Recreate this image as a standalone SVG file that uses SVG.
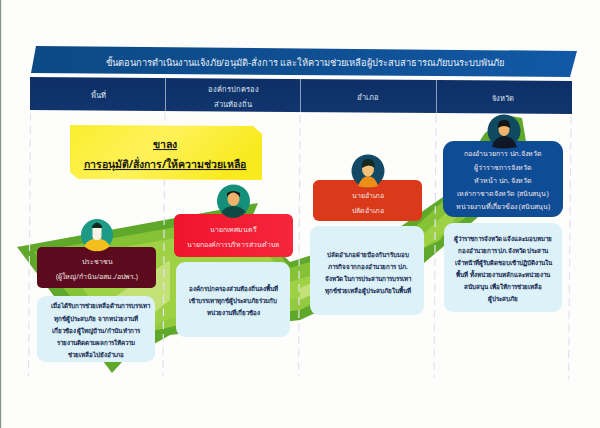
<svg xmlns="http://www.w3.org/2000/svg" width="600" height="428" viewBox="0 0 600 428">
<defs>
<linearGradient id="ban" x1="0" x2="1" y1="0" y2="0"><stop offset="0" stop-color="#0c4a86"/><stop offset="0.5" stop-color="#0f4f92"/><stop offset="1" stop-color="#1159a6"/></linearGradient>
<linearGradient id="hdr" x1="0" x2="0" y1="0" y2="1"><stop offset="0" stop-color="#0d2f66"/><stop offset="1" stop-color="#12356f"/></linearGradient>
<linearGradient id="yel" x1="0" x2="1" y1="0" y2="0.3"><stop offset="0" stop-color="#f9ee2c"/><stop offset="0.5" stop-color="#fff25a"/><stop offset="1" stop-color="#f8ea1f"/></linearGradient>
<linearGradient id="red" x1="0" x2="1" y1="0" y2="0"><stop offset="0" stop-color="#f0142c"/><stop offset="1" stop-color="#f7263c"/></linearGradient>
</defs>
<style>
text{font-family:"Noto Sans","Liberation Sans",sans-serif;text-anchor:middle}
.h{fill:#dfe6ef;font-size:7.5px}
.w{fill:#f2e6e6;font-size:7px}
.d{fill:#12284f;font-size:6.2px;font-weight:700}
.y{fill:#1a1a10;font-size:10.500px;font-weight:700;text-decoration:underline}
.dash{stroke:#e2e2ee;stroke-width:1.2;stroke-dasharray:8 5;fill:none}
.lb{fill:#dcf1f8}
</style>
<rect width="600" height="428" fill="#fdfdfb"/>
<rect x="0" y="0" width="1.2" height="428" fill="#7f9a8a"/>
<g id="banner">
<polygon points="36,46 577,51 570,77 31,73" fill="url(#ban)"/>
<text x="305" y="66" fill="#e8eef6" font-size="9.300">ขั้นตอนการดำเนินงานแจ้งภัย/อนุมัติ-สั่งการ และให้ความช่วยเหลือผู้ประสบสาธารณภัยบนระบบพันภัย</text>
</g>
<g id="header">
<polygon points="30,77 572,81 572,114 30,110" fill="url(#hdr)"/>
<path d="M165.500 78V111M300.500 79V112M436.500 80V114" stroke="#c5d0e0" stroke-width="0.7"/>
<text class="h" x="98" y="98">พื้นที่</text>
<text class="h" x="233" y="92">องค์กรปกครอง</text>
<text class="h" x="233" y="107">ส่วนท้องถิ่น</text>
<text class="h" x="368" y="100">อำเภอ</text>
<text class="h" x="503" y="101">จังหวัด</text>
</g>
<g id="connectors">
<polygon points="17,247 258,203 250,222 290,262 400,227 443,197 485,133 511,116 522,118 530,165 477,218 424,263 300,320 170,335 122,362 112,373" fill="#5fa82a"/>
<polygon points="34,252 250,214 290,268 410,232 455,190 495,135 515,122 520,160 465,218 420,250 300,298 170,318 110,345" fill="#86c236"/>
<polygon points="60,258 245,226 290,282 412,245 470,190 505,150 440,240 300,310 180,325 120,338" fill="#a6d548" opacity="0.75"/>
<polygon points="110,300 170,260 170,300 120,340" fill="#dceb9a" opacity="0.6"/>
<polygon points="300,288 420,235 425,245 300,300" fill="#dceb9a" opacity="0.6"/>
<path class="dash" d="M30.500 113L28.500 376"/>
<path class="dash" d="M165 113L163 376"/>
<path class="dash" d="M300 115L298.500 376"/>
<path class="dash" d="M436 115L434 378"/>
<path class="dash" d="M571 116L568.500 379"/>
</g>
<g id="decision">
<polygon points="70,125 253,126 262,134 262,180 78,179 70,172" fill="url(#yel)"/>
<text class="y" x="165" y="148">ขาลง</text>
<text class="y" x="165" y="168">การอนุมัติ/สั่งการ/ให้ความช่วยเหลือ</text>
</g>
<g id="node-area">
<rect x="37" y="247" width="119" height="41" rx="5" fill="#5c0a1e"/>
<circle cx="97" cy="235" r="16" fill="#1d9a85"/>
<path d="M84 246Q88 239 97 238Q106 239 110 246Q104 252 97 251Q90 252 84 246Z" fill="#f2bf1c"/>
<rect x="92.500" y="224" width="9" height="16" rx="4" fill="#fbf3e8"/>
<path d="M92 226Q97 219 102 226L102 228L92 228Z" fill="#12281f"/>
<text class="w" x="97" y="264">ประชาชน</text>
<text class="w" x="97" y="279">(ผู้ใหญ่/กำนัน/อสม./อปพร.)</text>
<rect class="lb" x="37" y="296" width="118" height="66" rx="9"/>
<text class="d" x="100" y="308">เมื่อได้รับการช่วยเหลือด้านการบรรเทา</text>
<text class="d" x="96" y="321">ทุกข์ผู้ประสบภัย จากหน่วยงานที่</text>
<text class="d" x="96" y="333">เกี่ยวข้อง ผู้ใหญ่บ้าน/กำนัน ทำการ</text>
<text class="d" x="96" y="345">รายงานติดตามผลการให้ความ</text>
<text class="d" x="96" y="357">ช่วยเหลือไปยังอำเภอ</text>
</g>
<g id="node-local">
<rect x="174" y="214" width="119" height="43" rx="6" fill="url(#red)"/>
<circle cx="233.500" cy="201" r="16.500" fill="#14907a"/>
<path d="M221 212Q226 206 233 206Q241 206 246 212Q240 218 233 218Q226 218 221 212Z" fill="#0f4a42"/>
<ellipse cx="233.500" cy="199" rx="6" ry="7" fill="#f0b268"/>
<path d="M227 197Q233 188 240 197L240 193Q233 189 227 193Z" fill="#1a1a1a"/>
<text class="w" x="233" y="232">นายกเทศมนตรี</text>
<text class="w" x="233" y="247">นายกองค์การบริหารส่วนตำบล</text>
<rect class="lb" x="176" y="262" width="114" height="75" rx="9"/>
<text class="d" x="233" y="291">องค์กรปกครองส่วนท้องถิ่นลงพื้นที่</text>
<text class="d" x="233" y="303">เข้าบรรเทาทุกข์ผู้ประสบภัยร่วมกับ</text>
<text class="d" x="233" y="315">หน่วยงานที่เกี่ยวข้อง</text>
</g>
<g id="node-district">
<rect x="313" y="180" width="109" height="41" rx="6" fill="#da3a1a"/>
<circle cx="368" cy="171" r="16.500" fill="#124a66"/>
<path d="M358 186Q362 176 368 176Q375 176 378 186Q368 189 358 186Z" fill="#ef8e16"/>
<ellipse cx="368" cy="169" rx="6" ry="7.500" fill="#f3c079"/>
<path d="M362 168Q361 159 368 159Q375 159 375 168Q369 163 362 168Z" fill="#14281f"/>
<text class="w" x="368" y="198">นายอำเภอ</text>
<text class="w" x="368" y="213">ปลัดอำเภอ</text>
<rect class="lb" x="310" y="226" width="114" height="89" rx="9"/>
<text class="d" x="368" y="257">ปลัดอำเภอฝ่ายป้องกันฯ รับมอบ</text>
<text class="d" x="368" y="269">ภารกิจจากกองอำนวยการ ปภ.</text>
<text class="d" x="368" y="281">จังหวัด ในการประสานการบรรเทา</text>
<text class="d" x="368" y="293">ทุกข์ช่วยเหลือผู้ประสบภัยในพื้นที่</text>
</g>
<g id="node-province">
<rect x="443" y="141" width="120" height="76" rx="11" fill="#0f4c96"/>
<circle cx="504" cy="131" r="16.500" fill="#0f4a60"/>
<path d="M492 147Q494 137 504 136Q514 137 517 147Q504 150 492 147Z" fill="#101828"/>
<ellipse cx="504" cy="129" rx="5.500" ry="7" fill="#f2b268"/>
<path d="M498 128Q497 120 504 120Q511 120 510 128Q504 124 498 128Z" fill="#141414"/>
<text class="w" x="503" y="156">กองอำนวยการ ปภ.จังหวัด</text>
<text class="w" x="503" y="170">ผู้ว่าราชการจังหวัด</text>
<text class="w" x="503" y="183">หัวหน้า ปภ. จังหวัด</text>
<text class="w" x="503" y="196">เหล่ากาชาดจังหวัด (สนับสนุน)</text>
<text class="w" x="503" y="209">หน่วยงานที่เกี่ยวข้อง (สนับสนุน)</text>
<rect class="lb" x="444" y="223" width="118" height="89" rx="9"/>
<text class="d" x="503" y="241">ผู้ว่าราชการจังหวัด แจ้งและมอบหมาย</text>
<text class="d" x="503" y="253">กองอำนวยการ ปภ.จังหวัด ประสาน</text>
<text class="d" x="503" y="265">เจ้าหน้าที่ผู้รับผิดชอบเข้าปฏิบัติงานใน</text>
<text class="d" x="503" y="277">พื้นที่ ทั้งหน่วยงานหลักและหน่วยงาน</text>
<text class="d" x="503" y="289">สนับสนุน เพื่อให้การช่วยเหลือ</text>
<text class="d" x="503" y="301">ผู้ประสบภัย</text>
</g>
</svg>
